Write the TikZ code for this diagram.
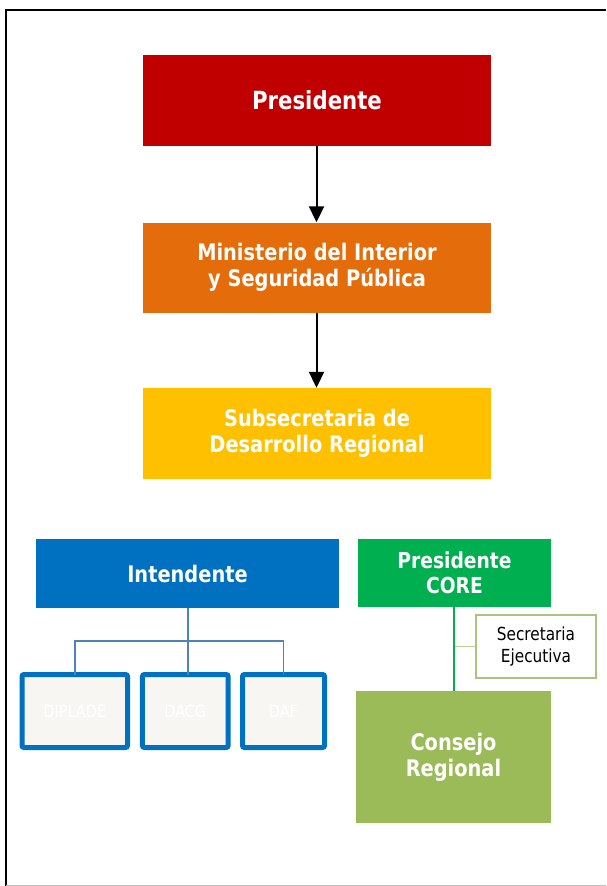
\documentclass[tikz,border=0pt]{standalone}
\usepackage{fontspec}
\newfontfamily\tah[FakeStretch=0.85]{DejaVu Sans}
\usetikzlibrary{arrows.meta}
\definecolor{cred}{HTML}{C00000}
\definecolor{corange}{HTML}{E46C0A}
\definecolor{cyellow}{HTML}{FFC000}
\definecolor{cblue}{HTML}{0070C0}
\definecolor{cgreen}{HTML}{00B050}
\definecolor{colive}{HTML}{9BBB59}
\definecolor{cpale}{HTML}{F7F6F2}
\definecolor{clink}{HTML}{4F81BD}
\definecolor{csecb}{HTML}{A9C47F}
\definecolor{cbranch}{HTML}{B8CF8E}
\tikzset{
  mainbox/.style={draw=none, inner sep=0pt, align=center, text=white,
    font=\tah\bfseries\fontsize{22.8}{26}\selectfont},
  subbox/.style={draw=cblue, line width=5pt, fill=cpale, rounded corners=2pt,
    inner sep=0pt, text=white, font=\tah\fontsize{17}{20}\selectfont},
  secbox/.style={draw=csecb, line width=2pt, fill=white, inner sep=0pt, align=center,
    text=black, font=\tah\fontsize{18}{22}\selectfont},
  arr/.style={line width=2pt, -{Triangle[width=15pt,length=16pt]}},
  bluelink/.style={draw=clink, line width=1.6pt},
}
\begin{document}
\begin{tikzpicture}[x=1pt,y=-1pt]
\useasboundingbox (0,0) rectangle (606,886);
% frame
\draw[line width=2pt] (5.7,886) -- (5.7,10) -- (606,10);
\draw[color=black!25, line width=1pt] (5.7,885.5) -- (606,885.5);
% main chain
\node[mainbox, fill=cred, minimum width=348pt, minimum height=91pt,
  font=\tah\bfseries\fontsize{25}{28}\selectfont] (pres) at (317,100.5) {Presidente};
\node[mainbox, fill=corange, minimum width=348pt, minimum height=90pt] (min) at (317,267.5)
  {Ministerio del Interior\\y Seguridad Pública};
\node[mainbox, fill=cyellow, minimum width=348pt, minimum height=91pt] (sub) at (317,433.5)
  {Subsecretaria de\\Desarrollo Regional};
\draw[arr] (pres.south -| 316.5,0) -- (min.north -| 316.5,0);
\draw[arr] (min.south -| 316.5,0) -- (sub.north -| 316.5,0);
% Intendente
\node[mainbox, fill=cblue, minimum width=303pt, minimum height=69pt] (int) at (187.5,573.5) {Intendente};
\node[subbox, minimum width=105.5pt, minimum height=73pt] (dip) at (74.75,711) {DIPLADE};
\node[subbox, minimum width=85.7pt, minimum height=73pt] (dacg) at (185.3,711) {DACG};
\node[subbox, minimum width=82pt, minimum height=73pt] (daf) at (283.5,711) {DAF};
\coordinate (bl) at (74,641);
\coordinate (bx) at (188,0);
\draw[bluelink] (int.south -| bx) -- ([yshift=-2.5pt]dacg.north -| bx);
\draw[bluelink] ([yshift=-2.5pt]dip.north) -- (dip.north |- bl) -- (daf.north |- bl) -- ([yshift=-2.5pt]daf.north);
% CORE
\node[mainbox, fill=cgreen, minimum width=193pt, minimum height=68pt,
  font=\tah\bfseries\fontsize{22}{25.5}\selectfont] (core) at (454.5,573) {Presidente\\CORE};
\node[mainbox, fill=colive, minimum width=195pt, minimum height=132pt] (cons) at (453.5,757) {Consejo\\Regional};
\node[secbox, minimum width=120pt, minimum height=63pt] (sec) at (536,646.5) {Secretaria\\Ejecutiva};
\coordinate (gx) at (453.8,0);
\draw[cbranch, line width=1.8pt] (gx |- sec.west) -- (sec.west);
\draw[cgreen, line width=2.6pt] (core.south -| gx) -- (cons.north -| gx);
\end{tikzpicture}
\end{document}
